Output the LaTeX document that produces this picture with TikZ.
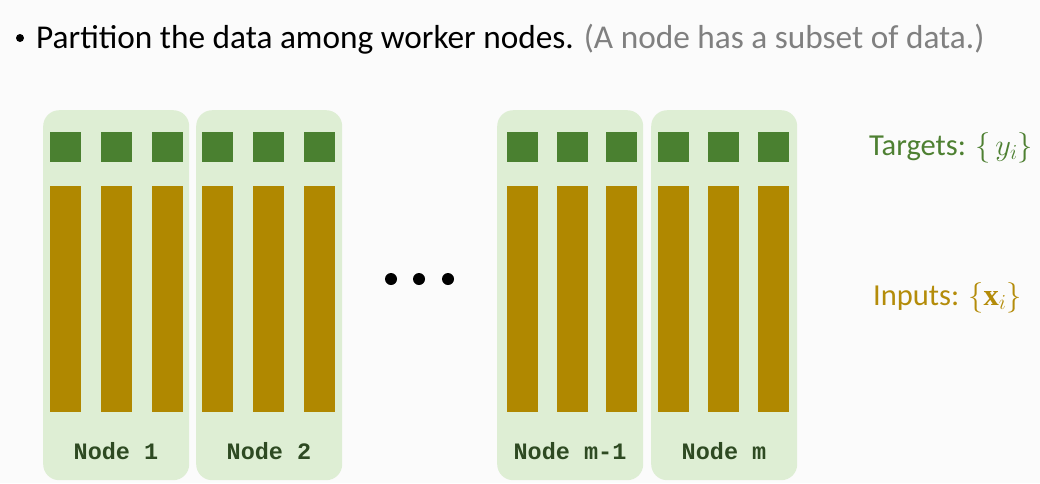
\RequirePackage{fix-cm}
\documentclass[tikz,border=0pt]{standalone}
\usepackage{fontspec}
\setmainfont{Carlito}
\newfontfamily\monob{Liberation Mono}[BoldFont={Liberation Mono Bold}]
\newfontfamily\serifb{Liberation Serif}[BoldFont={Liberation Serif Bold}]
\definecolor{bgc}{RGB}{251,251,251}
\definecolor{panelc}{RGB}{222,238,212}
\definecolor{targc}{RGB}{74,128,48}
\definecolor{inpc}{RGB}{176,136,0}
\definecolor{labc}{RGB}{46,74,34}
\definecolor{greyc}{RGB}{128,128,128}
\definecolor{targtxt}{RGB}{78,128,50}
\definecolor{inptxt}{RGB}{180,140,10}
\begin{document}
\begin{tikzpicture}[x=1pt,y=-1pt,
  panelbox/.style={fill=panelc,draw=none,rounded corners=16pt,anchor=north west,inner sep=0pt,minimum width=146pt,minimum height=370pt},
  targbox/.style={fill=targc,draw=none,anchor=north west,inner sep=0pt,minimum width=31pt,minimum height=30pt},
  inpbox/.style={fill=inpc,draw=none,anchor=north west,inner sep=0pt,minimum width=31pt,minimum height=226pt},
  nodelabel/.style={anchor=base,text=labc,font=\monob\bfseries\fontsize{23.5}{28}\selectfont,inner sep=0pt},
  dotc/.style={circle,fill=black,inner sep=0pt,minimum size=12pt}]
\useasboundingbox[fill=bgc] (0,0) rectangle (1040,483);
% title
\node[circle,fill=black,inner sep=0pt,minimum size=8pt] (bullet) at (20,38) {};
\node[anchor=base west,inner sep=0pt,font=\fontsize{33.3}{40}\selectfont] (title) at (36,48)
  {Partition the data among worker nodes. \textcolor{greyc}{(A node has a subset of data.)}};
% panels
\foreach \nm/\px/\lab/\oa/\ob/\oc in {p1/43/{Node 1}/7/58/109, p2/196/{Node 2}/6/57/108, p3/497/{Node m-1}/10/60/109, p4/651/{Node m}/7/57/107}{
  \node[panelbox] (\nm) at (\px,110) {};
  \node[targbox] (\nm t1) at (\px+\oa,132) {};
  \node[targbox] (\nm t2) at (\px+\ob,132) {};
  \node[targbox] (\nm t3) at (\px+\oc,132) {};
  \node[inpbox] (\nm x1) at (\px+\oa,186) {};
  \node[inpbox] (\nm x2) at (\px+\ob,186) {};
  \node[inpbox] (\nm x3) at (\px+\oc,186) {};
  \node[nodelabel] (\nm lab) at (\px+73,459) {\lab};
}
% dots
\node[dotc] (d1) at (391,279) {};
\node[dotc] (d2) at (419,279) {};
\node[dotc] (d3) at (448,279) {};
% right labels
\node[anchor=base west,inner sep=0pt,text=targtxt,font=\fontsize{30.5}{36}\selectfont] (targets) at (869,155) {Targets: $\{\,y_i\}$};
\node[anchor=base west,inner sep=0pt,text=inptxt,font=\fontsize{30.5}{36}\selectfont] (inputs) at (873,305) {Inputs: $\{\hbox{\serifb\bfseries x}_i\}$};
\end{tikzpicture}
\end{document}
